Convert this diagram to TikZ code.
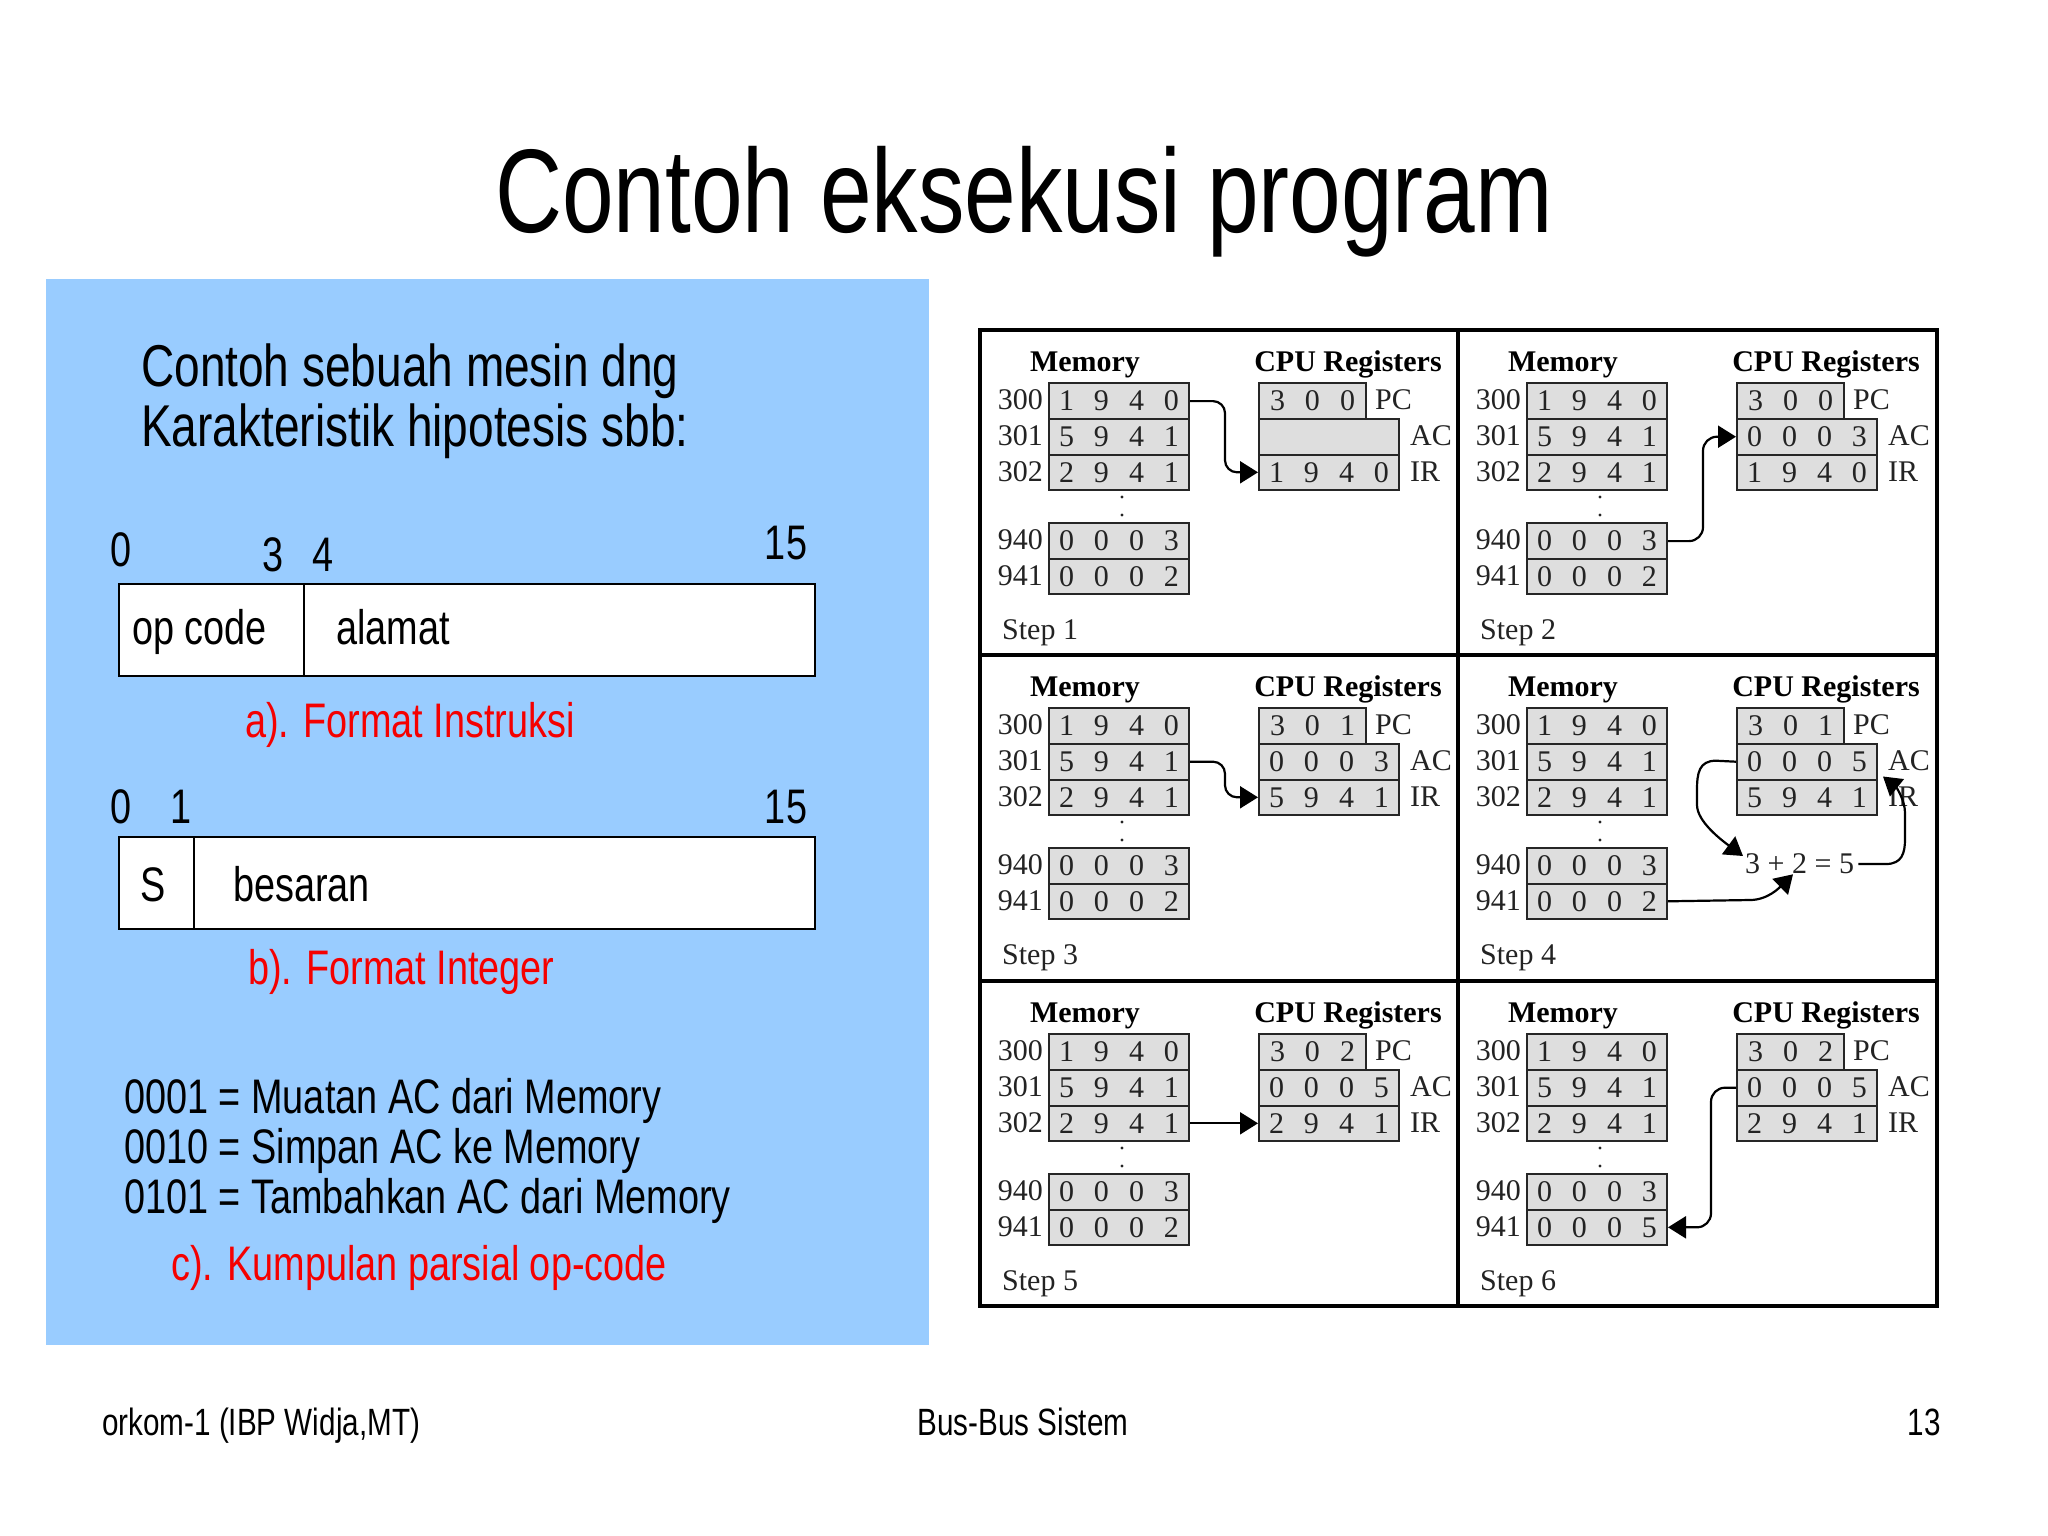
\documentclass[tikz,border=0pt]{standalone}
\usepackage{fontspec}
\setmainfont{Liberation Sans}[FakeStretch=0.78]
\newfontfamily\serf{Liberation Serif}
\usetikzlibrary{arrows.meta,calc}
\definecolor{panelblue}{RGB}{153,204,255}
\definecolor{cellgray}{RGB}{222,222,222}
\definecolor{ink}{RGB}{35,35,35}
\definecolor{capred}{RGB}{245,0,0}
\newcommand\dgf[4]{\makebox[35pt]{#1}\makebox[35pt]{#2}\makebox[35pt]{#3}\makebox[35pt]{#4}}
\newcommand\dgt[3]{\makebox[35pt]{#1}\makebox[35pt]{#2}\makebox[35pt]{#3}}
\tikzset{
  cell/.style={draw=black!85, line width=2pt, fill=cellgray, inner sep=0pt,
    minimum height=35.6pt, anchor=north west, font=\serf\fontsize{30}{30}\selectfont, text=ink},
  memcell/.style={cell, minimum width=140pt},
  pccell/.style={cell, minimum width=107pt},
  regcell/.style={cell, minimum width=140pt},
  ser/.style={font=\serf\fontsize{30}{30}\selectfont, text=ink, inner sep=0pt},
  hdr/.style={font=\serf\bfseries\fontsize{30}{30}\selectfont, inner sep=0pt, anchor=base},
  arr/.style={draw=black, line width=2.2pt, -{Triangle[length=18pt,width=22pt]}},
  panelframe/.style={line width=4pt, draw=black},
  body1/.style={font=\fontsize{59}{62}\selectfont, inner sep=0pt},
  body2/.style={font=\fontsize{48.5}{50}\selectfont, inner sep=0pt},
  field/.style={draw=black, line width=2pt, fill=white, minimum height=92pt, anchor=north west, inner sep=0pt},
  foot/.style={font=\fontsize{38}{40}\selectfont, inner sep=0pt}
}
% #1 name, #2 x, #3 y, #4 PC, #5 AC, #6 IR, #7 mem 941, #8 step
\newcommand\stagepanel[8]{%
\begin{scope}[shift={(#2,#3)}]
  \node[memcell] (#1m300) at (68,52.3) {\dgf1940};
  \node[memcell] (#1m301) at (68,87.9) {\dgf5941};
  \node[memcell] (#1m302) at (68,123.5) {\dgf2941};
  \node[memcell] (#1m940) at (68,192.3) {\dgf0003};
  \node[memcell] (#1m941) at (68,227.5) {#7};
  \node[ser,anchor=east] (#1a300) at (63,70.1) {300};
  \node[ser,anchor=east] (#1a301) at (63,105.7) {301};
  \node[ser,anchor=east] (#1a302) at (63,141.3) {302};
  \node[ser,anchor=east] (#1a940) at (63,210.1) {940};
  \node[ser,anchor=east] (#1a941) at (63,245.3) {941};
  \fill[ink] (142,167) circle[radius=1.7pt];
  \fill[ink] (142,185) circle[radius=1.7pt];
  \node[pccell] (#1pc) at (278,52.3) {#4};
  \node[regcell] (#1ac) at (278,87.9) {#5};
  \node[regcell] (#1ir) at (278,123.5) {#6};
  \node[ser,anchor=west] (#1lpc) at (395,70.1) {PC};
  \node[ser,anchor=west] (#1lac) at (430,105.7) {AC};
  \node[ser,anchor=west] (#1lir) at (430,141.3) {IR};
  \node[hdr] (#1hm) at (105,41) {Memory};
  \node[hdr] (#1hc) at (368,41) {CPU Registers};
  \node[ser,anchor=base west] (#1step) at (22,309) {Step #8};
\end{scope}}
\begin{document}
\begin{tikzpicture}[x=1pt,y=-1pt]
\useasboundingbox (0,0) rectangle (2048,1535);
\fill[white] (0,0) rectangle (2048,1535);

% title
\node[font=\fontsize{119}{121}\selectfont, inner sep=0pt, anchor=base] (title) at (1024,232) {Contoh eksekusi program};

% left blue panel
\node[fill=panelblue, minimum width=883pt, minimum height=1066pt, anchor=north west, inner sep=0pt] (bluepanel) at (46,279) {};
\node[body1, anchor=base west] (l1) at (141,386) {Contoh sebuah mesin dng};
\node[body1, anchor=base west] (l2) at (141,446) {Karakteristik hipotesis sbb:};

\node[body2, anchor=base] (a0) at (121,566) {0};
\node[body2, anchor=base] (a3) at (273,571) {3};
\node[body2, anchor=base] (a4) at (323,571) {4};
\node[body2, anchor=base] (a15) at (786,559) {15};
\node[field, minimum width=185pt] (fop) at (118,583) {};
\node[field, minimum width=511pt] (fal) at (303,583) {};
\node[body2, anchor=base west] (top) at (132,644) {op code};
\node[body2, anchor=base west] (tal) at (336,644) {alamat};
\node[body2, text=capred, anchor=base west] (capa) at (245,737) {a). Format Instruksi};

\node[body2, anchor=base] (b0) at (121,823) {0};
\node[body2, anchor=base] (b1) at (181,823) {1};
\node[body2, anchor=base] (b15) at (786,823) {15};
\node[field, minimum width=75pt] (fs) at (118,836) {};
\node[field, minimum width=621pt] (fbe) at (193,836) {};
\node[body2, anchor=base west] (ts) at (140,901) {S};
\node[body2, anchor=base west] (tbe) at (233,901) {besaran};
\node[body2, text=capred, anchor=base west] (capb) at (248,984) {b). Format Integer};

\node[body2, anchor=base west] (o1) at (124,1113) {0001 = Muatan AC dari Memory};
\node[body2, anchor=base west] (o2) at (124,1163) {0010 = Simpan AC ke Memory};
\node[body2, anchor=base west] (o3) at (124,1213) {0101 = Tambahkan AC dari Memory};
\node[body2, text=capred, anchor=base west] (capc) at (171,1280) {c). Kumpulan parsial op-code};

% right figure
\fill[white] (980,330) rectangle (1937,1306);
\stagepanel{p1}{980}{330}{\dgt300}{}{\dgf1940}{\dgf0002}{1}
\stagepanel{p2}{1458}{330}{\dgt300}{\dgf0003}{\dgf1940}{\dgf0002}{2}
\stagepanel{p3}{980}{655}{\dgt301}{\dgf0003}{\dgf5941}{\dgf0002}{3}
\stagepanel{p4}{1458}{655}{\dgt301}{\dgf0005}{\dgf5941}{\dgf0002}{4}
\stagepanel{p5}{980}{981}{\dgt302}{\dgf0005}{\dgf2941}{\dgf0002}{5}
\stagepanel{p6}{1458}{981}{\dgt302}{\dgf0005}{\dgf2941}{\dgf0005}{6}

\draw[panelframe] (980,330) rectangle (1937,1306);
\draw[panelframe] (1458,330) -- (1458,1306);
\draw[panelframe] (980,655) -- (1937,655);
\draw[panelframe] (980,981) -- (1937,981);

% arrows
\draw[arr, rounded corners=12pt] (p1m300.east) -- ++(35,0) |- (p1ir.west);
\draw[arr, rounded corners=14pt] (p2m940.east) -- ++(35,0) |- (p2ac.west);
\draw[arr, rounded corners=12pt] (p3m301.east) -- ++(35,0) |- (p3ir.west);
\draw[arr] (p5m302.east) -- (p5ir.west);
\draw[arr, rounded corners=14pt] (p6ac.west) -- ++(-25,0) |- (p6m941.east);

\begin{scope}[shift={(1458,655)}]
  \node[ser, anchor=west] (p4sum) at (287,209) {3 + 2 = 5};
  \draw[arr] (p4ac.west) -- (258,105.7) .. controls (241,105.7) and (239,118) .. (239,135)
     -- (239,150) .. controls (239,166) and (262,184) .. ($(p4sum.west)+(-2,-8)$);
  \draw[arr] (p4m941.east) -- (292,245) .. controls (310,245) and (322,232) .. ($(p4sum.south west)+(48,0)$);
  \draw[arr] ($(p4sum.east)+(4,0)$) -- (428,209) .. controls (444,209) and (447,198) .. (447,184)
     -- (447,158) .. controls (447,145) and (438,132) .. ($(p4ac.south east)+(5,-4)$);
\end{scope}

% footer
\node[foot, anchor=base west] (f1) at (102,1435) {orkom-1 (IBP Widja,MT)};
\node[foot, anchor=base] (f2) at (1023,1435) {Bus-Bus Sistem};
\node[foot, anchor=base east] (f3) at (1941,1435) {13};
\end{tikzpicture}
\end{document}
